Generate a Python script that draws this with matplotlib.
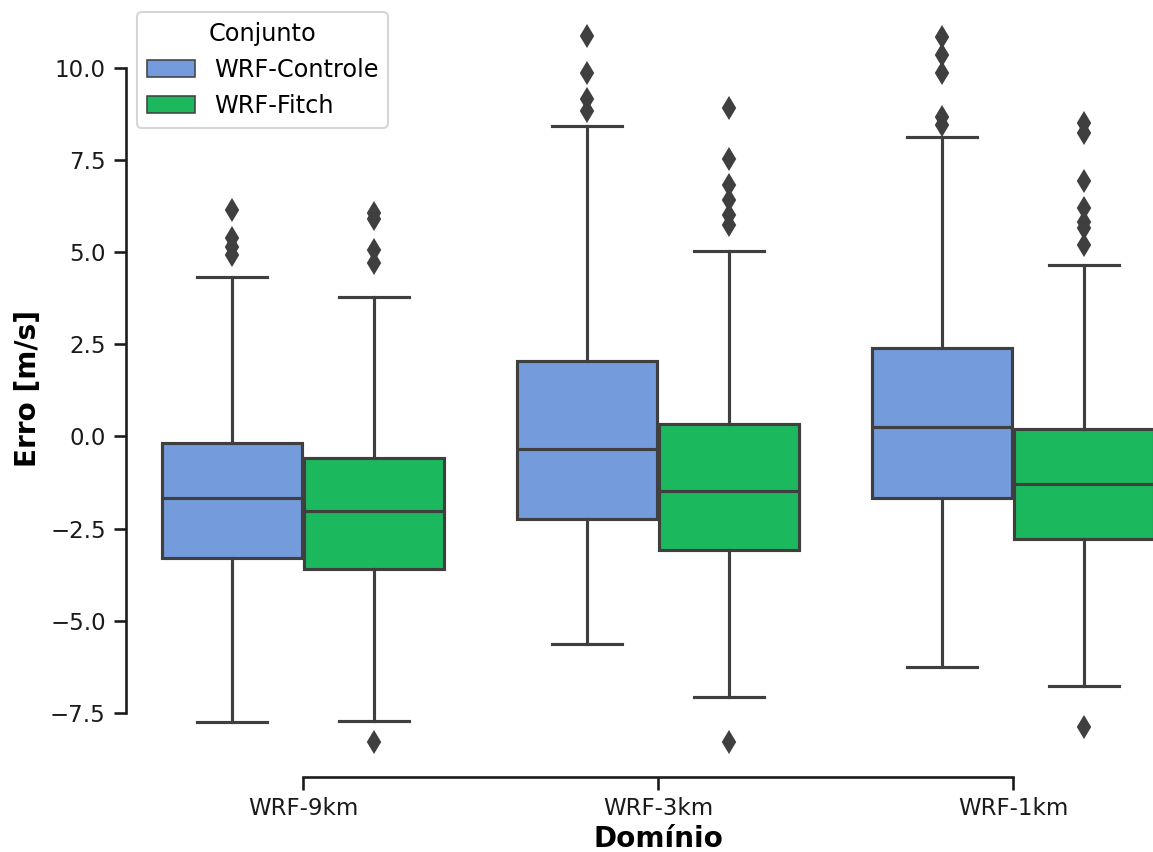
import numpy as np
import matplotlib.pyplot as plt
from matplotlib.patches import Patch

dominios = ['WRF-9km', 'WRF-3km', 'WRF-1km']
conjuntos = ['WRF-Controle', 'WRF-Fitch']
cores = ['#749bdb', '#1cb85d']
cinza = '#3f3f3f'

# estatisticas das caixas por dominio: [Controle, Fitch]
whislo = [[-7.75, -7.73], [-5.63, -7.07], [-6.24, -6.78]]
q1 = [[-3.31, -3.60], [-2.23, -3.08], [-1.67, -2.79]]
med = [[-1.67, -2.02], [-0.34, -1.48], [0.26, -1.28]]
q3 = [[-0.18, -0.59], [2.04, 0.35], [2.40, 0.21]]
whishi = [[4.33, 3.79], [8.41, 5.04], [8.12, 4.64]]
outliers = [
    [[6.15, 5.39, 5.14, 4.93], [6.05, 5.90, 5.06, 4.70, -8.28]],
    [[10.87, 9.86, 9.15, 8.84], [8.91, 7.53, 6.81, 6.42, 6.01, 5.74, -8.28]],
    [[10.85, 10.35, 9.86, 8.68, 8.45], [8.50, 8.23, 6.92, 6.19, 5.83, 5.65, 5.20, -7.87]],
]

fig = plt.figure(figsize=(1153 / 150, 852 / 150), dpi=150)
ax = fig.add_axes([125.5 / 1153, 75 / 852, 1065 / 1153, 776.5 / 852])

largura = 0.4 * 0.98
for j, cor in enumerate(cores):
    stats = []
    for i in range(len(dominios)):
        stats.append(dict(whislo=whislo[i][j], q1=q1[i][j], med=med[i][j],
                          q3=q3[i][j], whishi=whishi[i][j], fliers=outliers[i][j]))
    pos = np.arange(len(dominios)) + (j - 0.5) * 0.4
    ax.bxp(stats, positions=pos, widths=largura, patch_artist=True, manage_ticks=False,
           boxprops=dict(facecolor=cor, edgecolor=cinza, linewidth=1.5),
           medianprops=dict(color=cinza, linewidth=1.5),
           whiskerprops=dict(color=cinza, linewidth=1.5),
           capprops=dict(color=cinza, linewidth=1.5),
           flierprops=dict(marker='d', markerfacecolor=cinza, markeredgecolor=cinza,
                           markersize=7, linestyle='none'))

ax.set_xlim(-0.5, 2.5)
ax.set_xticks(range(len(dominios)))
ax.set_xticklabels(dominios)
ax.set_yticks(np.arange(-7.5, 10.01, 2.5))
ax.tick_params(labelsize=11, colors='#1a1a1a', length=6, width=1.25)

for lado in ['top', 'right']:
    ax.spines[lado].set_visible(False)
ax.spines['left'].set_bounds(-7.5, 10.0)
ax.spines['bottom'].set_bounds(0, 2)
for lado in ['left', 'bottom']:
    ax.spines[lado].set_color('#1a1a1a')
    ax.spines[lado].set_linewidth(1.25)

ax.set_xlabel('Domínio', fontsize=13.4, fontweight='bold', labelpad=2.5)
ax.set_ylabel('Erro [m/s]', fontsize=13.4, fontweight='bold')

handles = [Patch(facecolor=c, edgecolor=cinza, linewidth=0.75, label=l) for c, l in zip(cores, conjuntos)]
leg = ax.legend(handles=handles, title='Conjunto', loc='upper left', fontsize=11.5, title_fontsize=11.5)

plt.savefig('out.png', dpi=150)
